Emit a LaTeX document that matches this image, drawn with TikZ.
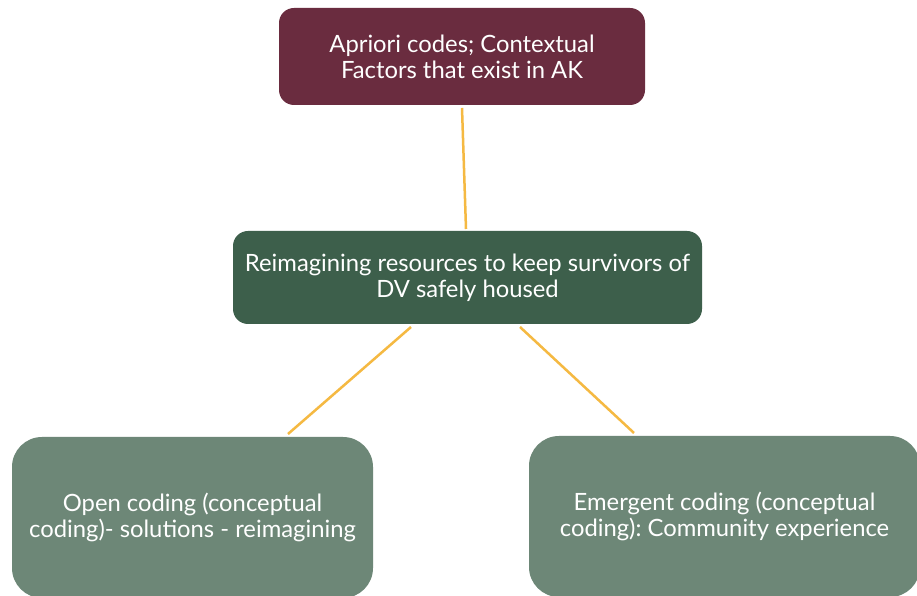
\documentclass[tikz,border=0pt]{standalone}
\usepackage{fontspec}
\setmainfont{Lato}
\usepackage{xcolor}
\usepackage{tikz}
\usetikzlibrary{positioning,calc}
\frenchspacing

\definecolor{apriorColor}{RGB}{106,44,63}
\definecolor{coreColor}{RGB}{61,95,75}
\definecolor{codingColor}{RGB}{109,135,119}
\definecolor{linkColor}{RGB}{245,185,66}

\begin{document}
\begin{tikzpicture}[x=1pt,y=1pt,
  box/.style={rectangle,inner sep=0pt,outer sep=0pt,text=white,align=center,
    font=\fontsize{23.8}{26}\selectfont},
  topbox/.style={box,fill=apriorColor,rounded corners=15pt,minimum width=366pt,minimum height=97pt},
  corebox/.style={box,fill=coreColor,rounded corners=15pt,minimum width=469pt,minimum height=93pt},
  codebox/.style={box,fill=codingColor,rounded corners=30pt,minimum height=161pt},
  link/.style={draw=linkColor,line width=2.5pt}]
\path[use as bounding box,fill=white] (0,0) rectangle (917,596);
\begin{scope}
\clip (0,0) rectangle (917,596);

% boxes
\node[topbox] (apriori) at (462,539.5) {Apriori codes; Contextual\\Factors that exist in AK};
\node[corebox] (core) at (467.5,318.5) {Reimagining resources to keep survivors of\\DV safely housed};
\node[codebox,minimum width=361pt] (open) at (192.5,78.5) {Open coding (conceptual\\coding)- solutions - reimagining};
\node[codebox,minimum width=391pt] (emergent) at (724.5,79.5) {Emergent coding (conceptual\\coding): Community experience};

% connectors
\draw[link] ([yshift=-3pt]apriori.south) -- ([xshift=-1.5pt,yshift=2pt]core.north);
\draw[link] ([xshift=-56.5pt,yshift=-3pt]core.south) -- ([xshift=95.5pt,yshift=3pt]open.north);
\draw[link] ([xshift=52.5pt,yshift=-3pt]core.south) -- ([xshift=-90.5pt,yshift=3pt]emergent.north);
\end{scope}
\end{tikzpicture}
\end{document}
